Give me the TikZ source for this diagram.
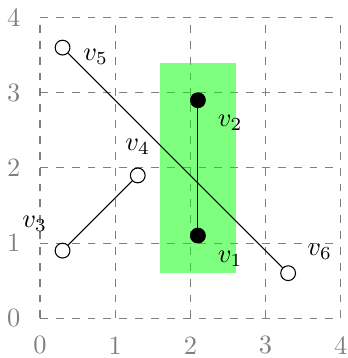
\documentclass[tikz,border=0pt]{standalone}
\begin{document}
\begin{tikzpicture}[
  gridline/.style={gray, dashed, line width=0.4pt},
  ticklabel/.style={gray, inner sep=0pt, anchor=center},
  openv/.style={circle, draw=black, fill=white, inner sep=0pt, minimum size=5.6pt},
  fullv/.style={circle, draw=black, fill=black, inner sep=0pt, minimum size=5.6pt},
  vlabel/.style={inner sep=0pt, anchor=center},
  edge/.style={draw=black, line width=0.4pt}
]
\useasboundingbox (-0.532,-0.528) rectangle (4.096,4.233);
\draw[gridline] (0,0) grid (4,4);
\foreach \i in {0,...,4} {
  \node[ticklabel] (xl\i) at (\i,-0.36) {\i};
  \node[ticklabel] (yl\i) at (-0.35,\i) {\i};
}
\fill[green, fill opacity=0.5] (1.6,0.6) rectangle (2.6,3.4);
\node[fullv] (v1) at (2.1,1.1) {};
\node[fullv] (v2) at (2.1,2.9) {};
\node[openv] (v3) at (0.3,0.9) {};
\node[openv] (v4) at (1.3,1.9) {};
\node[openv] (v5) at (0.3,3.6) {};
\node[openv] (v6) at (3.3,0.6) {};
\draw[edge] (v1) -- (v2);
\draw[edge] (v3) -- (v4);
\draw[edge] (v5) -- (v6);
\node[vlabel] (l1) at (2.53,0.79) {$v_1$};
\node[vlabel] (l2) at (2.53,2.60) {$v_2$};
\node[vlabel] (l3) at (-0.07,1.26) {$v_3$};
\node[vlabel] (l4) at (1.30,2.28) {$v_4$};
\node[vlabel] (l5) at (0.74,3.48) {$v_5$};
\node[vlabel] (l6) at (3.72,0.89) {$v_6$};
\end{tikzpicture}
\end{document}
